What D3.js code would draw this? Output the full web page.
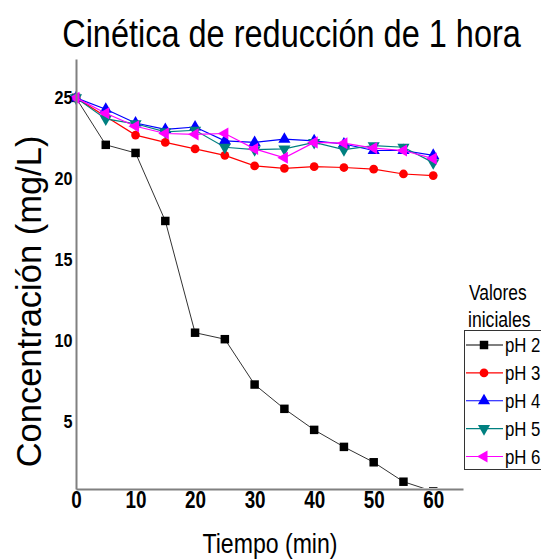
<!DOCTYPE html>
<html>
<head>
<meta charset="utf-8">
<script src="https://cdn.jsdelivr.net/npm/d3@7"></script>
<style>
  body { margin: 0; background: #fff; }
  svg { display: block; }
</style>
</head>
<body>
<svg id="chart" width="541" height="560"></svg>
<script>
// Sampling times (min)
const times = [0, 5, 10, 15, 20, 25, 30, 35, 40, 45, 50, 55, 60];

// Concentration (mg/L) for each initial pH
const ph2 = [25, 22.1, 21.6, 17.4, 10.5, 10.1, 7.3, 5.8, 4.5, 3.45, 2.5, 1.3, 0.7];
const ph3 = [25, 23.85, 22.7, 22.25, 21.85, 21.45, 20.8, 20.65, 20.75, 20.7, 20.6, 20.3, 20.2];
const ph4 = [25, 24.3, 23.45, 23.05, 23.2, 22.35, 22.25, 22.45, 22.35, 22.15, 21.75, 21.75, 21.45];
const ph5 = [25, 23.7, 23.4, 22.9, 23.0, 21.95, 21.8, 21.85, 22.25, 21.8, 22.05, 21.95, 21.0];
const ph6 = [25, 24.05, 23.25, 22.8, 22.75, 22.8, 21.85, 21.3, 22.25, 22.2, 21.9, 21.75, 21.25];

const seriesNames = ["pH 2", "pH 3", "pH 4", "pH 5", "pH 6"];
const seriesValues = [ph2, ph3, ph4, ph5, ph6];

const xTicks = [0, 10, 20, 30, 40, 50, 60];
const yTicks = [5, 10, 15, 20, 25];

const titleText = "Cinética de reducción de 1 hora";
const xLabel = "Tiempo (min)";
const yLabel = "Concentración (mg/L)";
const legendTitle = ["Valores", "iniciales"];

// Styling per series
const colors = ["#000000", "#ff0000", "#0000ff", "#008080", "#ff00ff"];
const lineColors = ["#333333", "#ff0000", "#0000ff", "#008080", "#ff00ff"];
const shapes = [d3.symbolSquare, d3.symbolCircle, d3.symbolTriangle, d3.symbolTriangle, d3.symbolTriangle];
const shapeSizes = [72, 60, 64, 64, 64];
const shapeRot = [0, 0, 0, 180, -90];

const svg = d3.select("#chart");
const plotLeft = 76, plotRight = 463, plotTop = 59, plotBottom = 489;

const x = d3.scaleLinear().domain([0, 65]).range([plotLeft, plotRight]);
const y = d3.scaleLinear().domain([0.85, 27.4]).range([plotBottom, plotTop]);

const textFont = "'Liberation Sans', Arial, sans-serif";

// Horizontally condensed text placed at (tx, ty)
function condensedText(parent, tx, ty, sx, size, anchor, str) {
  return parent.append("g")
    .attr("transform", `translate(${tx},${ty}) scale(${sx},1)`)
    .append("text")
    .attr("text-anchor", anchor)
    .attr("font-family", textFont)
    .attr("font-size", size)
    .attr("fill", "#000")
    .text(str);
}

// Title
condensedText(svg, 291.5, 47, 0.855, 38, "middle", titleText);

// Clip region for the plotted data
svg.append("defs").append("clipPath").attr("id", "plotClip")
  .append("rect")
  .attr("x", plotLeft - 10).attr("y", plotTop - 10)
  .attr("width", plotRight - plotLeft + 20).attr("height", plotBottom - plotTop + 9);

const plot = svg.append("g").attr("clip-path", "url(#plotClip)");

const line = d3.line()
  .x((d, i) => x(times[i]))
  .y(d => y(d));

seriesValues.forEach((vals, s) => {
  const g = plot.append("g");
  g.append("path")
    .datum(vals)
    .attr("fill", "none")
    .attr("stroke", lineColors[s])
    .attr("stroke-width", s === 0 ? 1 : 1.2)
    .attr("d", line);
  const sym = d3.symbol().type(shapes[s]).size(shapeSizes[s]);
  g.selectAll("path.mark")
    .data(vals)
    .join("path")
    .attr("class", "mark")
    .attr("fill", colors[s])
    .attr("transform", (d, i) => `translate(${x(times[i])},${y(d)}) rotate(${shapeRot[s]})`)
    .attr("d", sym);
});

// Axes (grey lines, no tick marks)
const yAxis = d3.axisLeft(y).tickValues(yTicks).tickSize(0).tickSizeOuter(0).tickPadding(4);
const gy = svg.append("g").attr("transform", `translate(${plotLeft},0)`).call(yAxis);
gy.select(".domain").attr("stroke", "#808080").attr("stroke-width", 2);
gy.selectAll(".tick text")
  .attr("font-family", textFont)
  .attr("font-weight", "bold")
  .attr("font-size", 18)
  .attr("transform", "scale(0.9,1)")
  .attr("fill", "#000");

const xAxis = d3.axisBottom(x).tickValues(xTicks).tickSize(0).tickSizeOuter(0).tickPadding(3);
const gx = svg.append("g").attr("transform", `translate(0,${plotBottom})`).call(xAxis);
gx.select(".domain").attr("stroke", "#808080").attr("stroke-width", 2);
gx.selectAll(".tick text")
  .attr("font-family", textFont)
  .attr("font-weight", "bold")
  .attr("font-size", 23)
  .attr("transform", "scale(0.82,1)")
  .attr("fill", "#000");

// Axis titles
condensedText(svg, 270, 553, 0.81, 28.5, "middle", xLabel);

svg.append("text")
  .attr("transform", `translate(41,301.5) rotate(-90)`)
  .attr("text-anchor", "middle")
  .attr("font-family", textFont)
  .attr("font-size", 34.5)
  .attr("fill", "#000")
  .text(yLabel);

// Legend
condensedText(svg, 469, 300, 0.79, 22, "start", legendTitle[0]);
condensedText(svg, 468, 327, 0.8, 22, "start", legendTitle[1]);

svg.append("rect")
  .attr("x", 464.5).attr("y", 330.5)
  .attr("width", 100).attr("height", 139)
  .attr("fill", "none")
  .attr("stroke", "#333")
  .attr("stroke-width", 1);

const legendY = d3.scalePoint().domain(seriesNames).range([345, 456.5]);
seriesNames.forEach((name, s) => {
  const ly = legendY(name);
  svg.append("line")
    .attr("x1", 466).attr("x2", 503)
    .attr("y1", ly).attr("y2", ly)
    .attr("stroke", colors[s]).attr("stroke-width", 1.2);
  svg.append("path")
    .attr("fill", colors[s])
    .attr("transform", `translate(484,${ly}) rotate(${shapeRot[s]})`)
    .attr("d", d3.symbol().type(shapes[s]).size(shapeSizes[s])());
  condensedText(svg, 505, ly + 7, 0.84, 20, "start", name);
});
</script>
</body>
</html>
